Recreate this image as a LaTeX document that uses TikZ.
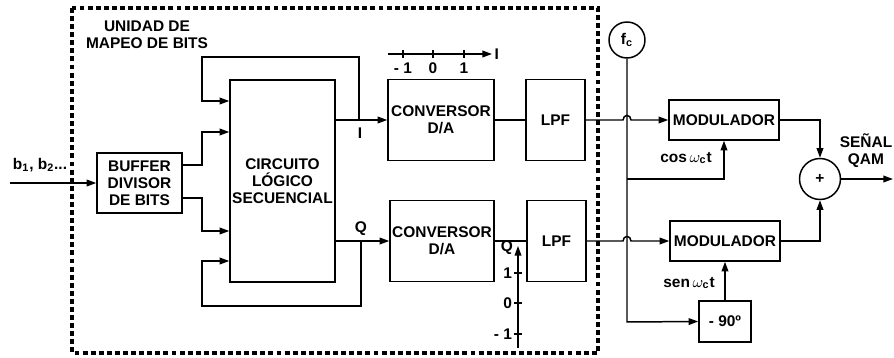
\documentclass[tikz,border=0pt]{standalone}
\usepackage{fontspec}
\setmainfont{Liberation Sans}
\usetikzlibrary{arrows.meta,positioning}
\tikzset{
  blk/.style={draw, line width=0.85pt, align=center, inner sep=0pt, font=\bfseries\fontsize{8.8}{9.8}\selectfont},
  lbl/.style={inner sep=1pt, align=center, font=\bfseries\fontsize{8.8}{9.8}\selectfont},
  wire/.style={line width=0.85pt},
  arr/.style={wire, -{Triangle[length=5.5pt,width=3.8pt]}},
}
\begin{document}
\begin{tikzpicture}[x=0.02cm, y=-0.02cm]
\useasboundingbox (0,0) rectangle (894,358);
% unidad de mapeo
\draw[line width=2pt, dash pattern=on 2.8pt off 1.8pt] (72,8) rectangle (598,353);
\node[lbl] (title) at (147,35) {UNIDAD DE\\MAPEO DE BITS};
% bloques
\node[blk, minimum width=1.7cm, minimum height=1.2cm] (buffer) at (139.5,183) {BUFFER\\DIVISOR\\DE BITS};
\node[blk, minimum width=2.1cm, minimum height=4.04cm] (circ) at (282.5,181) {CIRCUITO\\LÓGICO\\SECUENCIAL};
\node[blk, minimum width=2.12cm, minimum height=1.62cm] (convI) at (441,120) {CONVERSOR\\D/A};
\node[blk, minimum width=1.18cm, minimum height=1.62cm] (lpfI) at (555.5,120) {LPF};
\node[blk, minimum width=2.08cm, minimum height=1.62cm] (convQ) at (442,241) {CONVERSOR\\D/A};
\node[blk, minimum width=1.18cm, minimum height=1.62cm] (lpfQ) at (556.5,241) {LPF};
\node[blk, minimum width=2.2cm, minimum height=0.8cm] (modI) at (724,120) {MODULADOR};
\node[blk, minimum width=2.2cm, minimum height=0.8cm] (modQ) at (725,241) {MODULADOR};
\node[blk, minimum width=1.04cm, minimum height=0.82cm] (shift) at (725,321.5) {- 90º};
\node[blk, circle, minimum size=0.72cm] (fc) at (627,40) {f$_{\mathbf{c}}$};
\node[blk, circle, minimum size=0.82cm] (sum) at (820,179) {+};
% entrada
\coordinate (in) at (10,183);
\node[lbl] (bits) at (40,165) {b\textsubscript{1}, b\textsubscript{2}...};
\draw[arr] (in) -- (buffer.west);
\draw[arr] (buffer.east |- 0,165) -- (202,165) |- (circ.west |- 0,132);
\draw[arr] (buffer.east |- 0,198) -- (202,198) |- (circ.west |- 0,231);
% salidas I y Q con realimentacion
\coordinate (jI) at (359,120);
\coordinate (jQ) at (361,241);
\draw[arr] (circ.east |- jI) -- (convI.west);
\draw[arr] (circ.east |- jQ) -- (convQ.west);
\draw[arr] (jI) -- (359,57) -| (202,101) -- (circ.west |- 0,101);
\draw[arr] (jQ) -- (361,306) -| (202,261) -- (circ.west |- 0,261);
\node[lbl] (labI) at (360,133) {I};
\node[lbl] (labQ) at (361,229) {Q};
\draw[wire] (convI.east) -- (lpfI.west);
\draw[wire] (convQ.east) -- (lpfQ.west);
% ejes
\draw[arr] (388,54) -- (492,54) node[lbl, right=0pt] (axI) {I};
\foreach \x/\v in {403/{- 1},433/0,464/1} {
  \draw[wire] (\x,50) -- (\x,58);
  \node[lbl] at (\x,68) {\v};
}
\draw[arr] (518,348) -- (518,246);
\node[lbl] (axQ) at (507,248) {Q};
\foreach \y/\v in {273/1,303/0,334/{- 1}} {
  \draw[wire] (514,\y) -- (522,\y);
  \node[lbl, anchor=east] at (514,\y) {\v};
}
% modulacion
\draw[arr] (lpfI.east) -- (623,120) .. controls (623,114) and (631,114) .. (631,120) -- (modI.west);
\draw[arr] (lpfQ.east) -- (623,241) .. controls (623,235) and (631,235) .. (631,241) -- (modQ.west);
\coordinate (fcend) at (627,322);
\draw[arr] (fc.south) -- (fcend) -- (shift.west);
\draw[arr] (627,179) -| (modI.south);
\draw[arr] (shift.north) -- (modQ.south);
\node[lbl] (cos) at (686,158) {cos\,$\omega_{\mathbf{c}}$t};
\node[lbl] (sen) at (689,283) {sen\,$\omega_{\mathbf{c}}$t};
\draw[arr] (modI.east) -| (sum.north);
\draw[arr] (modQ.east) -| (sum.south);
\coordinate (out) at (893,179);
\draw[arr] (sum.east) -- (out);
\node[lbl] (qam) at (866,151) {SEÑAL\\QAM};
\end{tikzpicture}
\end{document}
